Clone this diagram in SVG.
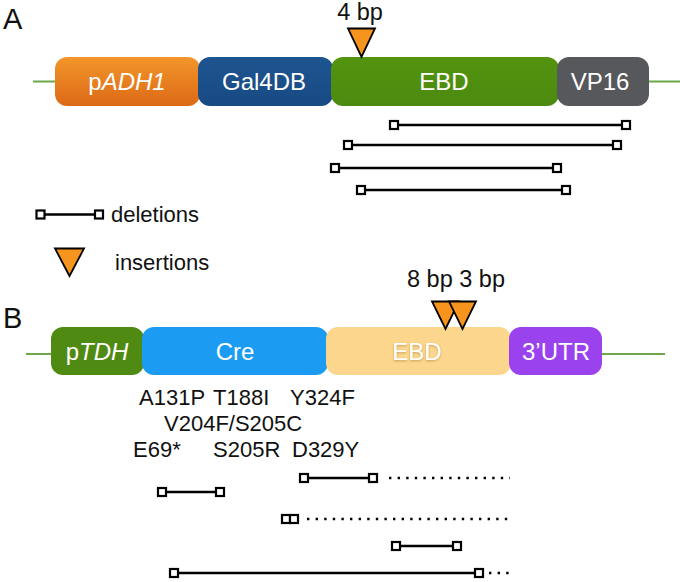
<svg xmlns="http://www.w3.org/2000/svg" width="680" height="582" viewBox="0 0 680 582">
<style>
text{font-family:"Liberation Sans",Arial,sans-serif;fill:#111}
.lbl{font-size:24px;fill:#fff;text-anchor:middle}
.big{font-size:29px}
.t{font-size:22px}
.bp{font-size:23.5px}
.dl{stroke:#000;stroke-width:2.5;fill:none}
.dt{stroke:#000;stroke-width:2.4;stroke-dasharray:2.4 6.2;fill:none}
.sq{fill:#fff;stroke:#000;stroke-width:2.2}
.tri{fill:#f7941d;stroke:#000;stroke-width:1.8;stroke-linejoin:miter}
.gl{stroke:#6fa84c;stroke-width:2}
</style>
<defs>
<linearGradient id="gOr" x1="0" y1="0" x2="0" y2="1"><stop offset="0" stop-color="#f3962a"/><stop offset="1" stop-color="#dc6916"/></linearGradient>
<linearGradient id="gBl" x1="0" y1="0" x2="0" y2="1"><stop offset="0" stop-color="#1d5590"/><stop offset="1" stop-color="#184a84"/></linearGradient>
<linearGradient id="gGr" x1="0" y1="0" x2="0" y2="1"><stop offset="0" stop-color="#53930f"/><stop offset="1" stop-color="#4b8a0f"/></linearGradient>
<filter id="sh" x="-20%" y="-20%" width="140%" height="140%"><feDropShadow dx="0" dy="1" stdDeviation="1" flood-color="#a07830" flood-opacity="0.6"/></filter>
</defs>

<text class="big" x="3" y="29">A</text>
<text class="big" x="3" y="328">B</text>

<g id="connectors">
<line class="gl" x1="33" y1="81.5" x2="680" y2="81.5"/>
<line class="gl" x1="26" y1="354" x2="665" y2="354"/>
</g>

<g id="pADH1"><rect x="55" y="57" width="145" height="49" rx="12" fill="url(#gOr)"/><text class="lbl" x="127" y="90">p<tspan font-style="italic">ADH1</tspan></text></g>
<g id="Gal4DB"><rect x="198" y="57" width="135" height="49" rx="12" fill="url(#gBl)"/><text class="lbl" x="264" y="90">Gal4DB</text></g>
<g id="EBD_A"><rect x="331" y="57" width="228" height="49" rx="12" fill="url(#gGr)"/><text class="lbl" x="444" y="90">EBD</text></g>
<g id="VP16"><rect x="557" y="57" width="92" height="49" rx="12" fill="#56585c"/><text class="lbl" x="600" y="90">VP16</text></g>

<g id="ins_A"><text class="bp" x="360" y="20" text-anchor="middle">4 bp</text><polygon class="tri" points="348,28.5 375,28.5 361.5,57"/></g>

<g id="del_A">
<line class="dl" x1="394" y1="125" x2="626" y2="125"/><rect class="sq" x="390" y="121" width="8" height="8"/><rect class="sq" x="622" y="121" width="8" height="8"/>
<line class="dl" x1="348" y1="145" x2="617" y2="145"/><rect class="sq" x="344" y="141" width="8" height="8"/><rect class="sq" x="613" y="141" width="8" height="8"/>
<line class="dl" x1="335" y1="168" x2="557" y2="168"/><rect class="sq" x="331" y="164" width="8" height="8"/><rect class="sq" x="553" y="164" width="8" height="8"/>
<line class="dl" x1="361" y1="190" x2="566" y2="190"/><rect class="sq" x="357" y="186" width="8" height="8"/><rect class="sq" x="562" y="186" width="8" height="8"/>
</g>

<g id="legend">
<line class="dl" x1="40" y1="214.5" x2="98" y2="214.5"/><rect class="sq" x="36.5" y="210.5" width="8" height="8"/><rect class="sq" x="95" y="210.5" width="8" height="8"/>
<text class="t" x="111" y="222">deletions</text>
<polygon class="tri" points="55,248.5 84,248.5 69.5,276"/>
<text class="t" x="115" y="270">insertions</text>
</g>

<g id="pTDH"><rect x="51" y="327" width="93" height="48" rx="12" fill="#4f8a12"/><text class="lbl" x="97" y="360">p<tspan font-style="italic">TDH</tspan></text></g>
<g id="Cre"><rect x="142" y="327" width="186" height="48" rx="12" fill="#1b9cf2"/><text class="lbl" x="235" y="360">Cre</text></g>
<g id="EBD_B"><rect x="326" y="327" width="185" height="48" rx="12" fill="#fbd68c"/><text class="lbl" x="417" y="360" filter="url(#sh)">EBD</text></g>
<g id="UTR"><rect x="509" y="327" width="93" height="48" rx="12" fill="#9a42ee"/><text class="lbl" x="556" y="360">3’UTR</text></g>

<g id="ins_B"><text class="bp" x="456" y="287" text-anchor="middle">8 bp 3 bp</text>
<polygon class="tri" points="432,301.5 459,301.5 445.5,329"/>
<polygon class="tri" points="449,301.5 476,301.5 462.5,329"/>
</g>

<g id="mutations">
<text class="t" x="139" y="405">A131P</text>
<text class="t" x="213" y="405">T188I</text>
<text class="t" x="290" y="405">Y324F</text>
<text class="t" x="164" y="431">V204F/S205C</text>
<text class="t" x="133" y="457">E69*</text>
<text class="t" x="213" y="457">S205R</text>
<text class="t" x="292" y="457">D329Y</text>
</g>

<g id="del_B">
<line class="dl" x1="304" y1="478" x2="373" y2="478"/><line class="dt" x1="389" y1="478" x2="510" y2="478"/><rect class="sq" x="300" y="474" width="8" height="8"/><rect class="sq" x="369" y="474" width="8" height="8"/>
<line class="dl" x1="162" y1="492" x2="220" y2="492"/><rect class="sq" x="158" y="488" width="8" height="8"/><rect class="sq" x="216" y="488" width="8" height="8"/>
<line class="dt" x1="307" y1="519" x2="512" y2="519"/><rect class="sq" x="282" y="515" width="8" height="8"/><rect class="sq" x="290" y="515" width="8" height="8"/>
<line class="dl" x1="396" y1="546" x2="457" y2="546"/><rect class="sq" x="392" y="542" width="8" height="8"/><rect class="sq" x="453" y="542" width="8" height="8"/>
<line class="dl" x1="174" y1="573" x2="479" y2="573"/><line class="dt" x1="489" y1="573" x2="510" y2="573"/><rect class="sq" x="170" y="569" width="8" height="8"/><rect class="sq" x="475" y="569" width="8" height="8"/>
</g>
</svg>
